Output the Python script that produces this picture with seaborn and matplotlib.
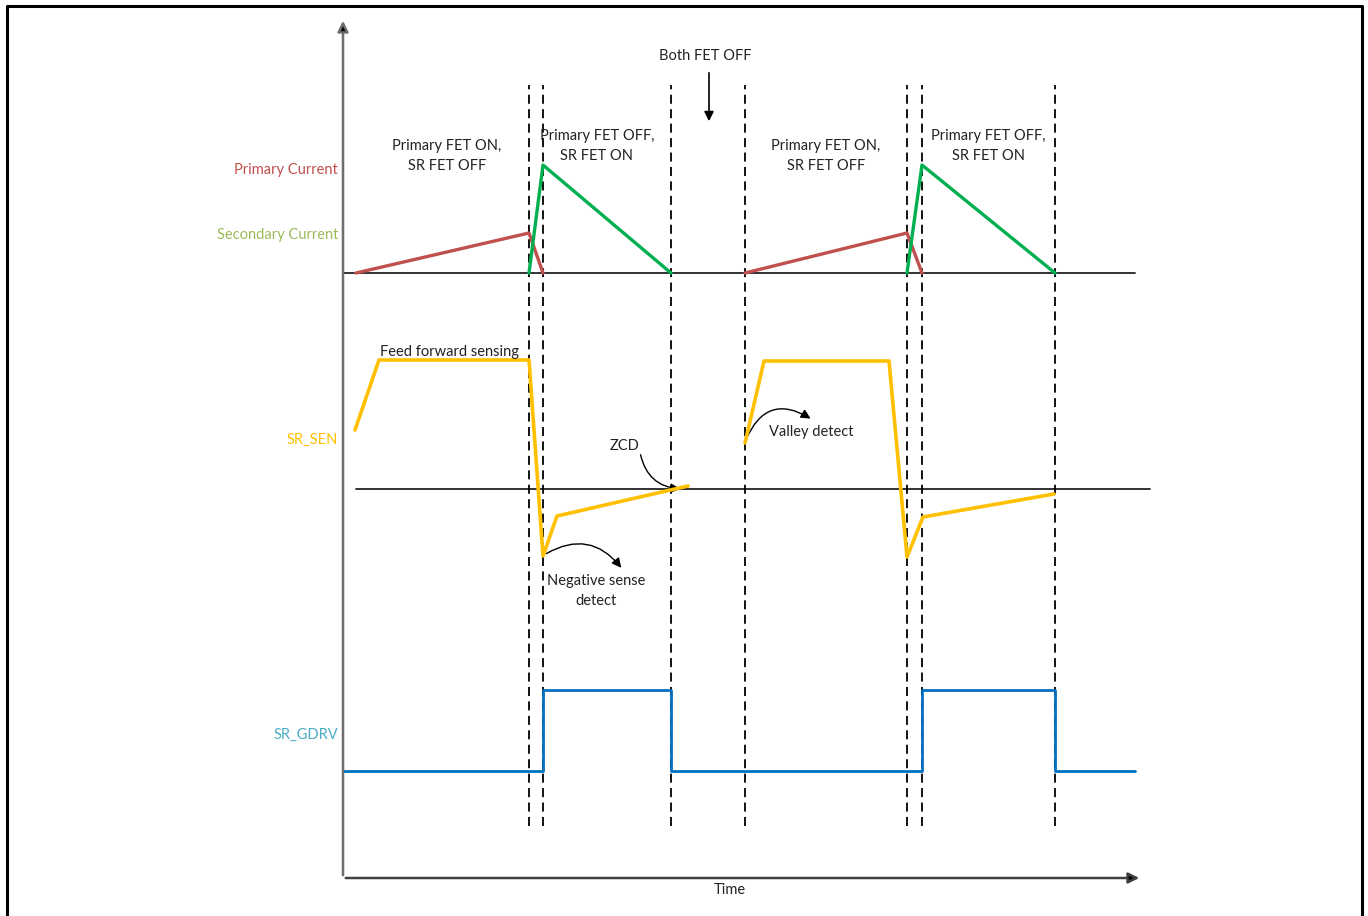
import numpy as np
import pandas as pd
import matplotlib
matplotlib.use("Agg")
import matplotlib.pyplot as plt
import seaborn as sns
from matplotlib.patches import FancyArrowPatch

# =====================================================
# DATA (time units along x, signal amplitude per trace)
# =====================================================

t_primary = [13, 186, 200, 402, 564, 579]
i_primary = [0, 40, 0, 0, 40, 0]
seg_primary = [0, 0, 0, 1, 1, 1]

t_secondary = [186, 200, 328, 564, 579, 712]
i_secondary = [0, 108, 0, 0, 108, 0]
seg_secondary = [0, 0, 0, 1, 1, 1]

t_sen = [12, 36, 186, 200, 214, 345, 402, 421, 546, 564, 580, 711]
v_sen = [59, 129, 129, -67, -27, 3, 46, 128, 128, -68, -28, -5]
seg_sen = [0, 0, 0, 0, 0, 0, 1, 1, 1, 1, 1, 1]

t_gdrv = [0, 200, 200, 328, 328, 579, 579, 712, 712, 792]
v_gdrv = [0, 0, 81, 81, 0, 0, 81, 81, 0, 0]

t_edges = [186, 200, 328, 402, 564, 579, 712]

# channel baselines
base_current = 643
base_sen = 427
base_gdrv = 145

# =====================================================
# FIGURE
# =====================================================

sns.set_style("white")
plt.rcParams["font.family"] = ["Lato", "DejaVu Sans"]

fig = plt.figure(figsize=(13.68, 9.16), dpi=100)
ax = fig.add_axes([0, 0, 1, 1])

# outer frame
ax.plot([-336, -336, 1019, 1019], [-10, 910, 910, -10], color="black", lw=2.2)

# time / signal axes
ax.annotate("", xy=(0, 898), xytext=(0, 38),
            arrowprops=dict(arrowstyle="-|>", color="#6e6e6e", lw=1.8,
                            mutation_scale=16, fc="black", ec="#6e6e6e"))
ax.annotate("", xy=(799, 38), xytext=(0, 38),
            arrowprops=dict(arrowstyle="-|>", color="#404040", lw=1.8,
                            mutation_scale=16, fc="black", ec="#404040"))

# baselines
ax.plot([0, 792], [base_current, base_current], color="#222222", lw=1.3)
ax.plot([13, 807], [base_sen, base_sen], color="#222222", lw=1.3)

# dashed edges
for te in t_edges:
    ax.plot([te, te], [90, 831], color="black", lw=1.3, ls=(0, (5, 3)))

# =====================================================
# TRACES
# =====================================================

df_p = pd.DataFrame({"t": t_primary, "v": np.array(i_primary) + base_current, "seg": seg_primary})
df_s = pd.DataFrame({"t": t_secondary, "v": np.array(i_secondary) + base_current, "seg": seg_secondary})
df_sen = pd.DataFrame({"t": t_sen, "v": np.array(v_sen) + base_sen, "seg": seg_sen})
df_g = pd.DataFrame({"t": t_gdrv, "v": np.array(v_gdrv) + base_gdrv})

sns.lineplot(data=df_p, x="t", y="v", units="seg", estimator=None, sort=False,
             color="#C0504D", lw=2.4, ax=ax)
sns.lineplot(data=df_s, x="t", y="v", units="seg", estimator=None, sort=False,
             color="#00B050", lw=2.4, ax=ax)
sns.lineplot(data=df_sen, x="t", y="v", units="seg", estimator=None, sort=False,
             color="#FFC000", lw=2.6, ax=ax)
sns.lineplot(data=df_g, x="t", y="v", estimator=None, sort=False,
             color="#0070C0", lw=2.0, ax=ax)
ax.set_xlim(-343, 1025)
ax.set_ylim(0, 916)
ax.axis("off")

# =====================================================
# LABELS
# =====================================================

fs = 10.5
ls = 1.6
ax.text(-5, 746, "Primary Current", color="#C0504D", ha="right", va="center", fontsize=fs)
ax.text(-5, 681, "Secondary Current", color="#9BBB59", ha="right", va="center", fontsize=fs)
ax.text(-5, 476, "SR_SEN", color="#FFC000", ha="right", va="center", fontsize=fs)
ax.text(-5, 181, "SR_GDRV", color="#4BACC6", ha="right", va="center", fontsize=fs)
ax.text(387, 26, "Time", color="#222222", ha="center", va="center", fontsize=fs)

ax.text(104, 760, "Primary FET ON,\nSR FET OFF", ha="center", va="center",
        fontsize=fs, linespacing=ls, color="#222222")
ax.text(483, 760, "Primary FET ON,\nSR FET OFF", ha="center", va="center",
        fontsize=fs, linespacing=ls, color="#222222")
ax.text(254, 770, "Primary FET OFF,\nSR FET ON", ha="center", va="center",
        fontsize=fs, linespacing=ls, color="#222222")
ax.text(645, 770, "Primary FET OFF,\nSR FET ON", ha="center", va="center",
        fontsize=fs, linespacing=ls, color="#222222")

ax.text(362, 860, "Both FET OFF", ha="center", va="center", fontsize=fs, color="#222222")
ax.annotate("", xy=(366, 792), xytext=(366, 846),
            arrowprops=dict(arrowstyle="-|>", color="black", lw=1.2, mutation_scale=14))

ax.text(107, 564, "Feed forward sensing", ha="center", va="center", fontsize=fs, color="#222222")
ax.text(282, 470, "ZCD", ha="center", va="center", fontsize=fs, color="#222222")
ax.text(253, 325, "Negative sense\ndetect", ha="center", va="center",
        fontsize=fs, linespacing=ls, color="#222222")
ax.text(468, 484, "Valley detect", ha="center", va="center", fontsize=fs, color="#222222")

# curved call-out arrows
for start, end, rad in [((201, 361), (280, 346), -0.45),
                        ((297, 464), (340, 427), 0.4),
                        ((402, 474), (470, 496), -0.6)]:
    ax.add_patch(FancyArrowPatch(start, end, connectionstyle=f"arc3,rad={rad}",
                                 arrowstyle="-|>", mutation_scale=14,
                                 color="black", lw=1.0))

fig.savefig("out.png", dpi=100)
